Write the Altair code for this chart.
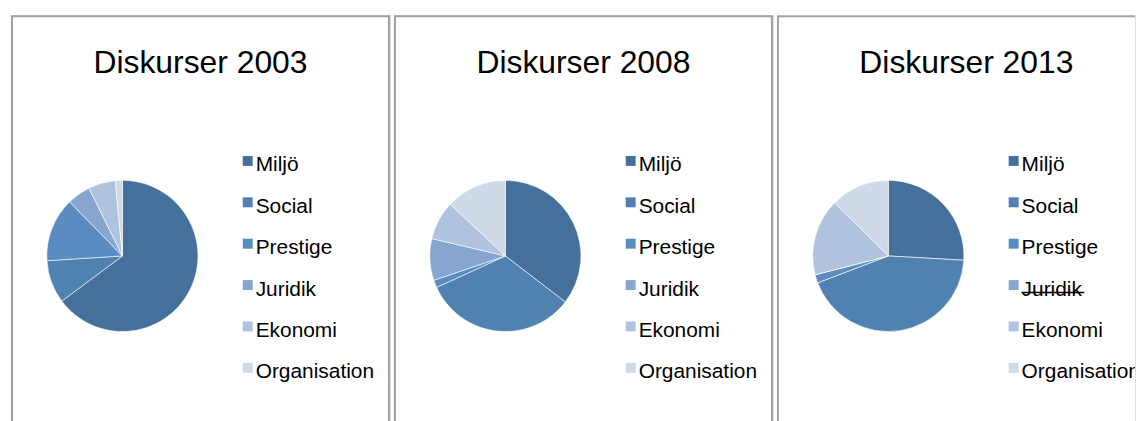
import altair as alt
import pandas as pd

categories = ["Miljö", "Social", "Prestige", "Juridik", "Ekonomi", "Organisation"]
colors = ["#46709C", "#4F81B1", "#5A8CC2", "#86A6D0", "#B0C3DE", "#CFD9E7"]
years = ["2003", "2008", "2013"]
titles = ["Diskurser 2003", "Diskurser 2008", "Diskurser 2013"]
values_2003 = [64.8, 9.2, 13.7, 5.0, 5.8, 1.5]
values_2008 = [35.4, 32.7, 1.6, 8.9, 8.3, 13.0]
values_2013 = [25.9, 43.3, 1.8, 0.0, 16.4, 12.6]
struck_2013 = ["Juridik"]

series = {"2003": values_2003, "2008": values_2008, "2013": values_2013}
struck = {"2003": [], "2008": [], "2013": struck_2013}
widths = [381, 381, 360]

FONT = "Liberation Sans"
color_scale = alt.Scale(domain=categories, range=colors)
y_scale = alt.Scale(type="point", domain=categories, range=[157, 365], padding=0)


def panel(year, title, w, clip):
    df = pd.DataFrame({
        "cat": categories,
        "value": series[year],
        "idx": list(range(len(categories))),
    })
    frame = alt.Chart(pd.DataFrame({"k": [1]})).mark_rect(
        fill=None, stroke="#9f9f9f", strokeWidth=2, clip=clip
    ).encode(x=alt.value(1), x2=alt.value(380), y=alt.value(1), y2=alt.value(460))
    pie = alt.Chart(df).mark_arc(radius=76, stroke="white", strokeWidth=0.6).encode(
        theta=alt.Theta("value:Q", stack=True),
        color=alt.Color("cat:N", scale=color_scale, legend=None),
        order=alt.Order("idx:Q"),
        x=alt.value(112),
        y=alt.value(242),
    )
    ttl = alt.Chart(pd.DataFrame({"t": [title]})).mark_text(
        font=FONT, fontSize=32, align="center", baseline="alphabetic", color="black"
    ).encode(text="t:N", x=alt.value(190.5), y=alt.value(58))
    sq = alt.Chart(df).mark_square(size=100, opacity=1, yOffset=-10.5).encode(
        x=alt.value(238),
        y=alt.Y("cat:N", scale=y_scale, axis=None),
        color=alt.Color("cat:N", scale=color_scale, legend=None),
    )
    lab = alt.Chart(df).mark_text(
        font=FONT, fontSize=21, align="left", baseline="alphabetic", color="black",
        clip=clip,
    ).encode(
        x=alt.value(246),
        y=alt.Y("cat:N", scale=y_scale, axis=None),
        text="cat:N",
    )
    layers = [frame, pie, ttl, sq, lab]
    if struck[year]:
        sdf = pd.DataFrame({"cat": struck[year]})
        rule = alt.Chart(sdf).mark_rule(color="black", strokeWidth=1.5, yOffset=-3).encode(
            x=alt.value(246),
            x2=alt.value(309),
            y=alt.Y("cat:N", scale=y_scale, axis=None),
        )
        layers.append(rule)
    return alt.layer(*layers).properties(width=w, height=420)


chart = alt.hconcat(
    *[panel(y, t, w, i == 2) for i, (y, t, w) in enumerate(zip(years, titles, widths))],
    spacing=2,
).properties(
    padding={"left": 2, "top": 5, "right": 0, "bottom": 0}
).configure_view(stroke=None).configure(background="white")

chart.save("out.html", embed_options={"renderer": "svg", "actions": False})
